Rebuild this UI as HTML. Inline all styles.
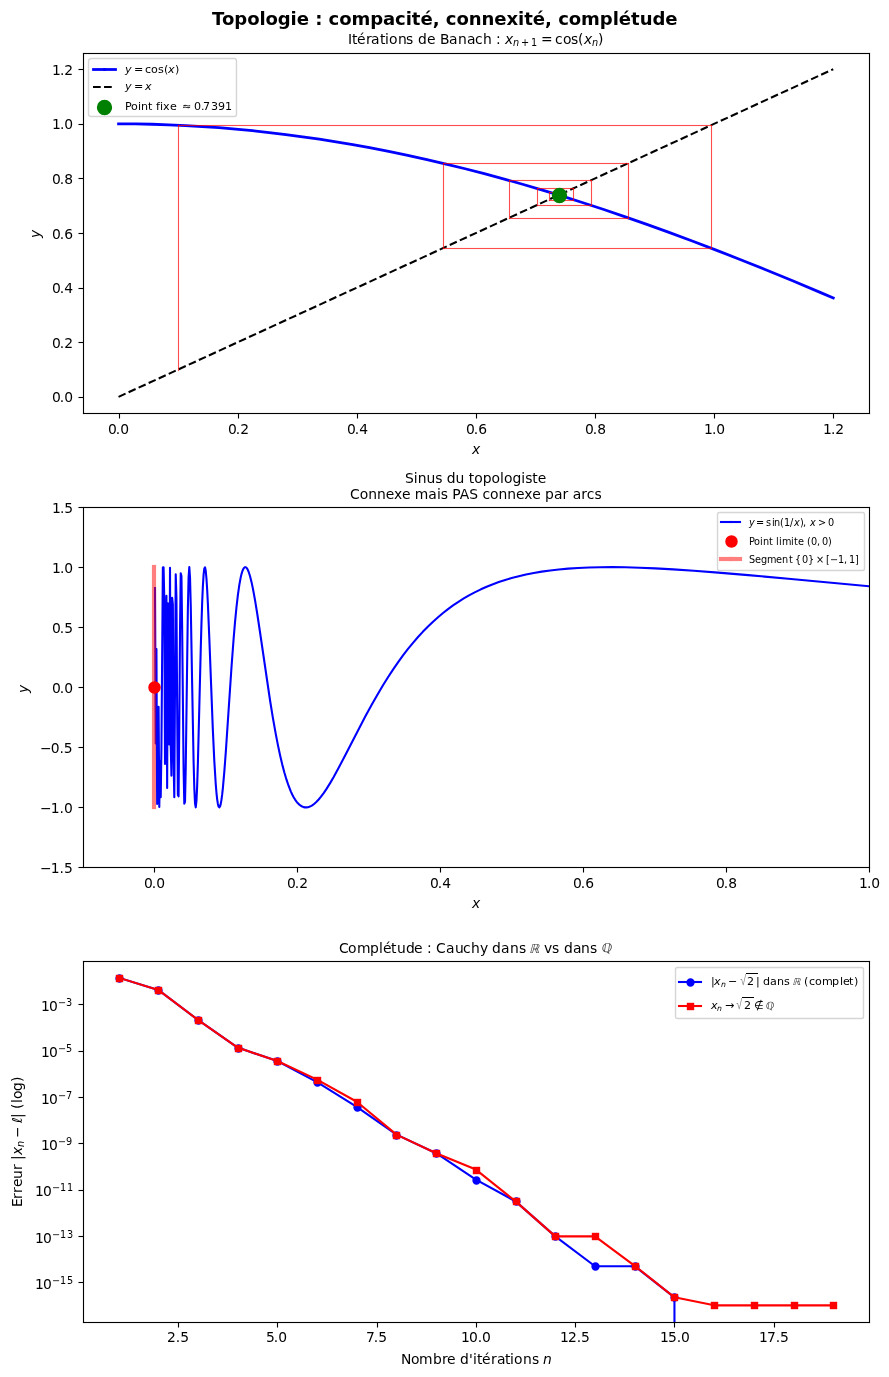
<!DOCTYPE html>
<html><head><meta charset="utf-8"><title>Topologie : compacité, connexité, complétude</title><style>html,body{margin:0;padding:0;background:#fff;overflow:hidden}svg{display:block;will-change:transform}</style></head>
<body>
<svg width="889" height="1377" viewBox="0 0 889 1377">
<defs>
<style type="text/css">*{stroke-linejoin: round; stroke-linecap: butt}</style>
</defs>
<g id="figure_1">
<g id="patch_1">
<path d="M 0 1377 L 890 1377 L 890 0 L 0 0 z
" style="fill: #ffffff"/>
</g>
<g id="axes_1">
<g id="patch_2">
<path d="M 83 413 L 869 413 L 869 53 L 83 53 z
" style="fill: #ffffff"/>
</g>
<g id="matplotlib.axis_1">
<g id="xtick_1">
<g id="line2d_1">
<defs>
<g id="m596c55c873">
<rect x="-0.0556" y="0.5" width="1.1111" height="5" style="fill: #000000"/>
</g>
</defs>
<g>
<use href="#m596c55c873" x="119" y="413"/>
</g>
</g>
<g id="text_1">
<text x="108 115.75 120.125" y="434" style="font-size: 13.888889px; font-family: 'DejaVu Sans', sans-serif">0.0</text>
</g>
</g>
<g id="xtick_2">
<g id="line2d_2">
<g>
<use href="#m596c55c873" x="238" y="413"/>
</g>
</g>
<g id="text_2">
<text x="228 235.75 240.125" y="434" style="font-size: 13.888889px; font-family: 'DejaVu Sans', sans-serif">0.2</text>
</g>
</g>
<g id="xtick_3">
<g id="line2d_3">
<g>
<use href="#m596c55c873" x="357" y="413"/>
</g>
</g>
<g id="text_3">
<text x="347 354.75 359.125" y="434" style="font-size: 13.888889px; font-family: 'DejaVu Sans', sans-serif">0.4</text>
</g>
</g>
<g id="xtick_4">
<g id="line2d_4">
<g>
<use href="#m596c55c873" x="476" y="413"/>
</g>
</g>
<g id="text_4">
<text x="466 473.75 478.125" y="434" style="font-size: 13.888889px; font-family: 'DejaVu Sans', sans-serif">0.6</text>
</g>
</g>
<g id="xtick_5">
<g id="line2d_5">
<g>
<use href="#m596c55c873" x="595" y="413"/>
</g>
</g>
<g id="text_5">
<text x="585 592.75 597.125" y="434" style="font-size: 13.888889px; font-family: 'DejaVu Sans', sans-serif">0.8</text>
</g>
</g>
<g id="xtick_6">
<g id="line2d_6">
<g>
<use href="#m596c55c873" x="714" y="413"/>
</g>
</g>
<g id="text_6">
<text x="704 711.875 716.25" y="434" style="font-size: 13.888889px; font-family: 'DejaVu Sans', sans-serif">1.0</text>
</g>
</g>
<g id="xtick_7">
<g id="line2d_7">
<g>
<use href="#m596c55c873" x="833" y="413"/>
</g>
</g>
<g id="text_7">
<text x="823 830.875 835.25" y="434" style="font-size: 13.888889px; font-family: 'DejaVu Sans', sans-serif">1.2</text>
</g>
</g>
<g id="text_8">
<!-- $x$ -->
<g style="font-family: 'DejaVu Sans', sans-serif">
<text style="white-space: pre"><tspan x="472" y="454" style="font-style: oblique; font-size: 13.888889px">x</tspan></text>
</g>
</g>
</g>
<g id="matplotlib.axis_2">
<g id="ytick_1">
<g id="line2d_8">
<defs>
<g id="mdbed641b74">
<rect x="-4.5" y="-0.0556" width="5" height="1.1111" style="fill: #000000"/>
</g>
</defs>
<g>
<use href="#mdbed641b74" x="83" y="397"/>
</g>
</g>
<g id="text_9">
<text x="52 59.75 64.125" y="402" style="font-size: 13.888889px; font-family: 'DejaVu Sans', sans-serif">0.0</text>
</g>
</g>
<g id="ytick_2">
<g id="line2d_9">
<g>
<use href="#mdbed641b74" x="83" y="342"/>
</g>
</g>
<g id="text_10">
<text x="52 59.75 64.125" y="348" style="font-size: 13.888889px; font-family: 'DejaVu Sans', sans-serif">0.2</text>
</g>
</g>
<g id="ytick_3">
<g id="line2d_10">
<g>
<use href="#mdbed641b74" x="83" y="288"/>
</g>
</g>
<g id="text_11">
<text x="52 59.75 64.125" y="293" style="font-size: 13.888889px; font-family: 'DejaVu Sans', sans-serif">0.4</text>
</g>
</g>
<g id="ytick_4">
<g id="line2d_11">
<g>
<use href="#mdbed641b74" x="83" y="233"/>
</g>
</g>
<g id="text_12">
<text x="52 59.75 64.125" y="239" style="font-size: 13.888889px; font-family: 'DejaVu Sans', sans-serif">0.6</text>
</g>
</g>
<g id="ytick_5">
<g id="line2d_12">
<g>
<use href="#mdbed641b74" x="83" y="178"/>
</g>
</g>
<g id="text_13">
<text x="52 59.75 64.125" y="184" style="font-size: 13.888889px; font-family: 'DejaVu Sans', sans-serif">0.8</text>
</g>
</g>
<g id="ytick_6">
<g id="line2d_13">
<g>
<use href="#mdbed641b74" x="83" y="124"/>
</g>
</g>
<g id="text_14">
<text x="52 59.875 64.25" y="129" style="font-size: 13.888889px; font-family: 'DejaVu Sans', sans-serif">1.0</text>
</g>
</g>
<g id="ytick_7">
<g id="line2d_14">
<g>
<use href="#mdbed641b74" x="83" y="69"/>
</g>
</g>
<g id="text_15">
<text x="52 59.875 64.25" y="75" style="font-size: 13.888889px; font-family: 'DejaVu Sans', sans-serif">1.2</text>
</g>
</g>
<g id="text_16">
<!-- $y$ -->
<g transform="rotate(-90 31 239)" style="font-family: 'DejaVu Sans', sans-serif">
<text style="white-space: pre"><tspan x="32" y="248" style="font-style: oblique; font-size: 13.888889px">y</tspan></text>
</g>
</g>
</g>
<g id="line2d_15">
<path d="M 118.548247 123.825589 L 135.280728 123.933334 L 152.013208 124.256482 L 168.745689 124.79478 L 185.478169 125.547802 L 202.21065 126.514953 L 218.94313 127.695472 L 235.675611 129.088425 L 252.408092 130.692714 L 269.140572 132.507072 L 285.873053 134.530069 L 302.605533 136.760106 L 319.338014 139.195424 L 336.070494 141.834102 L 352.802975 144.674056 L 369.535455 147.713046 L 388.65829 151.42681 L 407.781125 155.393573 L 426.90396 159.609246 L 446.026795 164.069484 L 465.14963 168.769689 L 484.272465 173.705016 L 503.3953 178.870378 L 522.518135 184.260451 L 541.64097 189.86968 L 560.763805 195.692281 L 582.276994 202.490273 L 603.790183 209.541845 L 625.303373 216.837799 L 646.816562 224.368615 L 668.329751 232.12447 L 692.233295 240.993706 L 716.136838 250.113985 L 740.040382 259.47062 L 766.33428 270.017913 L 792.628178 280.812403 L 821.31243 292.845407 L 833.264202 297.931979 L 833.264202 297.931979 " clip-path="url(#p5ff077d3a9)" style="fill: none; stroke: #0000ff; stroke-width: 2.777778; stroke-linecap: square"/>
</g>
<g id="line2d_16">
<path d="M 118.548247 396.872727 L 833.264202 69.216162 L 833.264202 69.216162 " clip-path="url(#p5ff077d3a9)" style="fill: none; stroke-dasharray: 7.708333,3.333333; stroke-dashoffset: 0; stroke: #000000; stroke-width: 2.083333"/>
</g>
<g id="line2d_17">
<g clip-path="url(#p5ff077d3a9)" style="fill: #ff0000; opacity: 0.7">
<rect x="177.9444" y="124.9444" width="1.1111" height="246.1111"/>
</g>
</g>
<g id="line2d_18">
<g clip-path="url(#p5ff077d3a9)" style="fill: #ff0000; opacity: 0.7">
<rect x="177.9444" y="124.9444" width="534.1111" height="1.1111"/>
</g>
</g>
<g id="line2d_19">
<g clip-path="url(#p5ff077d3a9)" style="fill: #ff0000; opacity: 0.7">
<rect x="710.9444" y="124.9444" width="1.1111" height="124.1111"/>
</g>
</g>
<g id="line2d_20">
<g clip-path="url(#p5ff077d3a9)" style="fill: #ff0000; opacity: 0.7">
<rect x="442.9444" y="247.9444" width="269.1111" height="1.1111"/>
</g>
</g>
<g id="line2d_21">
<g clip-path="url(#p5ff077d3a9)" style="fill: #ff0000; opacity: 0.7">
<rect x="442.9444" y="162.9444" width="1.1111" height="86.1111"/>
</g>
</g>
<g id="line2d_22">
<g clip-path="url(#p5ff077d3a9)" style="fill: #ff0000; opacity: 0.7">
<rect x="442.9444" y="162.9444" width="186.1111" height="1.1111"/>
</g>
</g>
<g id="line2d_23">
<g clip-path="url(#p5ff077d3a9)" style="fill: #ff0000; opacity: 0.7">
<rect x="627.9444" y="162.9444" width="1.1111" height="56.1111"/>
</g>
</g>
<g id="line2d_24">
<g clip-path="url(#p5ff077d3a9)" style="fill: #ff0000; opacity: 0.7">
<rect x="508.9444" y="217.9444" width="120.1111" height="1.1111"/>
</g>
</g>
<g id="line2d_25">
<g clip-path="url(#p5ff077d3a9)" style="fill: #ff0000; opacity: 0.7">
<rect x="508.9444" y="179.9444" width="1.1111" height="39.1111"/>
</g>
</g>
<g id="line2d_26">
<g clip-path="url(#p5ff077d3a9)" style="fill: #ff0000; opacity: 0.7">
<rect x="508.9444" y="179.9444" width="83.1111" height="1.1111"/>
</g>
</g>
<g id="line2d_27">
<g clip-path="url(#p5ff077d3a9)" style="fill: #ff0000; opacity: 0.7">
<rect x="590.9444" y="179.9444" width="1.1111" height="26.1111"/>
</g>
</g>
<g id="line2d_28">
<g clip-path="url(#p5ff077d3a9)" style="fill: #ff0000; opacity: 0.7">
<rect x="536.9444" y="204.9444" width="55.1111" height="1.1111"/>
</g>
</g>
<g id="line2d_29">
<g clip-path="url(#p5ff077d3a9)" style="fill: #ff0000; opacity: 0.7">
<rect x="536.9444" y="187.9444" width="1.1111" height="18.1111"/>
</g>
</g>
<g id="line2d_30">
<g clip-path="url(#p5ff077d3a9)" style="fill: #ff0000; opacity: 0.7">
<rect x="536.9444" y="187.9444" width="37.1111" height="1.1111"/>
</g>
</g>
<g id="line2d_31">
<g clip-path="url(#p5ff077d3a9)" style="fill: #ff0000; opacity: 0.7">
<rect x="572.9444" y="187.9444" width="1.1111" height="13.1111"/>
</g>
</g>
<g id="line2d_32">
<g clip-path="url(#p5ff077d3a9)" style="fill: #ff0000; opacity: 0.7">
<rect x="548.9444" y="199.9444" width="25.1111" height="1.1111"/>
</g>
</g>
<g id="line2d_33">
<g clip-path="url(#p5ff077d3a9)" style="fill: #ff0000; opacity: 0.7">
<rect x="548.9444" y="191.9444" width="1.1111" height="9.1111"/>
</g>
</g>
<g id="line2d_34">
<g clip-path="url(#p5ff077d3a9)" style="fill: #ff0000; opacity: 0.7">
<rect x="548.9444" y="191.9444" width="17.1111" height="1.1111"/>
</g>
</g>
<g id="line2d_35">
<g clip-path="url(#p5ff077d3a9)" style="fill: #ff0000; opacity: 0.7">
<rect x="564.9444" y="191.9444" width="1.1111" height="6.1111"/>
</g>
</g>
<g id="line2d_36">
<g clip-path="url(#p5ff077d3a9)" style="fill: #ff0000; opacity: 0.7">
<rect x="553.9444" y="196.9444" width="12.1111" height="1.1111"/>
</g>
</g>
<g id="line2d_37">
<g clip-path="url(#p5ff077d3a9)" style="fill: #ff0000; opacity: 0.7">
<rect x="553.9444" y="193.9444" width="1.1111" height="4.1111"/>
</g>
</g>
<g id="line2d_38">
<g clip-path="url(#p5ff077d3a9)" style="fill: #ff0000; opacity: 0.7">
<rect x="553.9444" y="193.9444" width="9.1111" height="1.1111"/>
</g>
</g>
<g id="line2d_39">
<g clip-path="url(#p5ff077d3a9)" style="fill: #ff0000; opacity: 0.7">
<rect x="561.9444" y="193.9444" width="1.1111" height="3.1111"/>
</g>
</g>
<g id="line2d_40">
<g clip-path="url(#p5ff077d3a9)" style="fill: #ff0000; opacity: 0.7">
<rect x="556.9444" y="195.9444" width="6.1111" height="1.1111"/>
</g>
</g>
<g id="line2d_41">
<g clip-path="url(#p5ff077d3a9)" style="fill: #ff0000; opacity: 0.7">
<rect x="556.9444" y="193.9444" width="1.1111" height="3.1111"/>
</g>
</g>
<g id="line2d_42">
<g clip-path="url(#p5ff077d3a9)" style="fill: #ff0000; opacity: 0.7">
<rect x="556.9444" y="193.9444" width="4.1111" height="1.1111"/>
</g>
</g>
<g id="line2d_43">
<g clip-path="url(#p5ff077d3a9)" style="fill: #ff0000; opacity: 0.7">
<rect x="559.9444" y="193.9444" width="1.1111" height="2.1111"/>
</g>
</g>
<g id="line2d_44">
<g clip-path="url(#p5ff077d3a9)" style="fill: #ff0000; opacity: 0.7">
<rect x="557.9444" y="194.9444" width="3.1111" height="1.1111"/>
</g>
</g>
<g id="line2d_45">
<g clip-path="url(#p5ff077d3a9)" style="fill: #ff0000; opacity: 0.7"/>
</g>
<g id="line2d_46">
<g clip-path="url(#p5ff077d3a9)" style="fill: #ff0000; opacity: 0.7">
<rect x="557.9444" y="194.9444" width="2.1111" height="1.1111"/>
</g>
</g>
<g id="line2d_47">
<g clip-path="url(#p5ff077d3a9)" style="fill: #ff0000; opacity: 0.7"/>
</g>
<g id="line2d_48">
<g clip-path="url(#p5ff077d3a9)" style="fill: #ff0000; opacity: 0.7">
<rect x="557.9444" y="194.9444" width="2.1111" height="1.1111"/>
</g>
</g>
<g id="line2d_49">
<g clip-path="url(#p5ff077d3a9)" style="fill: #ff0000; opacity: 0.7"/>
</g>
<g id="line2d_50">
<g clip-path="url(#p5ff077d3a9)" style="fill: #ff0000; opacity: 0.7">
<rect x="557.9444" y="194.9444" width="2.1111" height="1.1111"/>
</g>
</g>
<g id="line2d_51">
<g clip-path="url(#p5ff077d3a9)" style="fill: #ff0000; opacity: 0.7"/>
</g>
<g id="line2d_52">
<g clip-path="url(#p5ff077d3a9)" style="fill: #ff0000; opacity: 0.7"/>
</g>
<g id="line2d_53">
<g clip-path="url(#p5ff077d3a9)" style="fill: #ff0000; opacity: 0.7"/>
</g>
<g id="line2d_54">
<g clip-path="url(#p5ff077d3a9)" style="fill: #ff0000; opacity: 0.7"/>
</g>
<g id="line2d_55">
<g clip-path="url(#p5ff077d3a9)" style="fill: #ff0000; opacity: 0.7"/>
</g>
<g id="line2d_56">
<g clip-path="url(#p5ff077d3a9)" style="fill: #ff0000; opacity: 0.7"/>
</g>
<g id="patch_3">
<g style="fill: #000000">
<rect x="82.9444" y="52.9444" width="1.1111" height="361.1111"/>
</g>
</g>
<g id="patch_4">
<g style="fill: #000000">
<rect x="868.9444" y="52.9444" width="1.1111" height="361.1111"/>
</g>
</g>
<g id="patch_5">
<g style="fill: #000000">
<rect x="82.9444" y="412.9444" width="787.1111" height="1.1111"/>
</g>
</g>
<g id="patch_6">
<g style="fill: #000000">
<rect x="82.9444" y="52.9444" width="787.1111" height="1.1111"/>
</g>
</g>
<g id="text_17">
<!-- Itérations de Banach : $x_{n+1} = \cos(x_n)$ -->
<g style="font-family: 'DejaVu Sans', sans-serif">
<text style="white-space: pre"><tspan x="348" y="44" style="font-size: 13.888889px">I</tspan><tspan x="352" y="44" style="font-size: 13.888889px">t</tspan><tspan x="357" y="44" style="font-size: 13.888889px">é</tspan><tspan x="366" y="44" style="font-size: 13.888889px">r</tspan><tspan x="371" y="44" style="font-size: 13.888889px">a</tspan><tspan x="380" y="44" style="font-size: 13.888889px">t</tspan><tspan x="385" y="44" style="font-size: 13.888889px">i</tspan><tspan x="389" y="44" style="font-size: 13.888889px">o</tspan><tspan x="398" y="44" style="font-size: 13.888889px">n</tspan><tspan x="406" y="44" style="font-size: 13.888889px">s</tspan><tspan x="414" y="44" style="font-size: 13.888889px"> </tspan><tspan x="418" y="44" style="font-size: 13.888889px">d</tspan><tspan x="427" y="44" style="font-size: 13.888889px">e</tspan><tspan x="435" y="44" style="font-size: 13.888889px"> </tspan><tspan x="440" y="44" style="font-size: 13.888889px">B</tspan><tspan x="449" y="44" style="font-size: 13.888889px">a</tspan><tspan x="458" y="44" style="font-size: 13.888889px">n</tspan><tspan x="467" y="44" style="font-size: 13.888889px">a</tspan><tspan x="475" y="44" style="font-size: 13.888889px">c</tspan><tspan x="483" y="44" style="font-size: 13.888889px">h</tspan><tspan x="491" y="44" style="font-size: 13.888889px"> </tspan><tspan x="496" y="44" style="font-size: 13.888889px">:</tspan><tspan x="501" y="44" style="font-size: 13.888889px"> </tspan><tspan x="505" y="44" style="font-style: oblique; font-size: 13.888889px">x</tspan><tspan x="513" y="46" style="font-style: oblique; font-size: 9.722222px">n</tspan><tspan x="521" y="46" style="font-size: 9.722222px">+</tspan><tspan x="531" y="46" style="font-size: 9.722222px">1</tspan><tspan x="541" y="44" style="font-size: 13.888889px">=</tspan><tspan x="555" y="44" style="font-size: 13.888889px">c</tspan><tspan x="563" y="44" style="font-size: 13.888889px">o</tspan><tspan x="571" y="44" style="font-size: 13.888889px">s</tspan><tspan x="578" y="44" style="font-size: 13.888889px">(</tspan><tspan x="584" y="44" style="font-style: oblique; font-size: 13.888889px">x</tspan><tspan x="592" y="46" style="font-style: oblique; font-size: 9.722222px">n</tspan><tspan x="598" y="44" style="font-size: 13.888889px">)</tspan></text>
</g>
</g>
<g id="PathCollection_1">
<defs>
<path id="m0a743b87b1" d="M 0.5 7.444444 C 2.341688 7.444444 4.108194 6.712734 5.410464 5.410464 C 6.712734 4.108194 7.444444 2.341688 7.444444 0.5 C 7.444444 -1.341688 6.712734 -3.108194 5.410464 -4.410464 C 4.108194 -5.712734 2.341688 -6.444444 0.5 -6.444444 C -1.341688 -6.444444 -3.108194 -5.712734 -4.410464 -4.410464 C -5.712734 -3.108194 -6.444444 -1.341688 -6.444444 0.5 C -6.444444 2.341688 -5.712734 4.108194 -4.410464 5.410464 C -3.108194 6.712734 -1.341688 7.444444 0.5 7.444444 z
" style="stroke: #008000; stroke-width: 1.388889"/>
</defs>
<g clip-path="url(#p5ff077d3a9)">
<use href="#m0a743b87b1" x="559" y="195" style="fill: #008000; stroke: #008000; stroke-width: 1.388889"/>
</g>
</g>
<g id="legend_1">
<g id="patch_7">
<path d="M 91.5 116.5 L 234.5 116.5 Q 236.5 116.5 236.5 114.5 L 236.5 61.5 Q 236.5 58.5 234.5 58.5 L 91.5 58.5 Q 88.5 58.5 88.5 61.5 L 88.5 114.5 Q 88.5 116.5 91.5 116.5 z
" style="fill: #ffffff; opacity: 0.8; stroke: #cccccc; stroke-linejoin: miter; stroke-width: 1.388889"/>
</g>
<g id="line2d_57">
<g style="fill: #0000ff">
<rect x="92.1111" y="68.1111" width="13.7778" height="2.7778"/>
<rect x="103.1111" y="68.1111" width="13.7778" height="2.7778"/>
</g>
</g>
<g id="text_18">
<!-- $y=\cos(x)$ -->
<g style="font-family: 'DejaVu Sans', sans-serif">
<text style="white-space: pre"><tspan x="125" y="73" style="font-style: oblique; font-size: 11.111111px">y</tspan><tspan x="134" y="73" style="font-size: 11.111111px">=</tspan><tspan x="145" y="73" style="font-size: 11.111111px">c</tspan><tspan x="151" y="73" style="font-size: 11.111111px">o</tspan><tspan x="158" y="73" style="font-size: 11.111111px">s</tspan><tspan x="164" y="73" style="font-size: 11.111111px">(</tspan><tspan x="168" y="73" style="font-style: oblique; font-size: 11.111111px">x</tspan><tspan x="175" y="73" style="font-size: 11.111111px">)</tspan></text>
</g>
</g>
<g id="line2d_58">
<path d="M 93 87 L 104 87 L 115 87 " style="fill: none; stroke-dasharray: 7.708333,3.333333; stroke-dashoffset: 0; stroke: #000000; stroke-width: 2.083333"/>
</g>
<g id="text_19">
<!-- $y=x$ -->
<g style="font-family: 'DejaVu Sans', sans-serif">
<text style="white-space: pre"><tspan x="125" y="90" style="font-style: oblique; font-size: 11.111111px">y</tspan><tspan x="134" y="90" style="font-size: 11.111111px">=</tspan><tspan x="145" y="90" style="font-style: oblique; font-size: 11.111111px">x</tspan></text>
</g>
</g>
<g id="PathCollection_2">
<g>
<use href="#m0a743b87b1" x="104" y="107" style="fill: #008000; stroke: #008000; stroke-width: 1.388889"/>
</g>
</g>
<g id="text_20">
<!-- Point fixe $\approx 0.7391$ -->
<g style="font-family: 'DejaVu Sans', sans-serif">
<text style="white-space: pre"><tspan x="125" y="110" style="font-size: 11.111111px">P</tspan><tspan x="131" y="110" style="font-size: 11.111111px">o</tspan><tspan x="138" y="110" style="font-size: 11.111111px">i</tspan><tspan x="141" y="110" style="font-size: 11.111111px">n</tspan><tspan x="148" y="110" style="font-size: 11.111111px">t</tspan><tspan x="153" y="110" style="font-size: 11.111111px"> </tspan><tspan x="156" y="110" style="font-size: 11.111111px">f</tspan><tspan x="160" y="110" style="font-size: 11.111111px">i</tspan><tspan x="163" y="110" style="font-size: 11.111111px">x</tspan><tspan x="170" y="110" style="font-size: 11.111111px">e</tspan><tspan x="176" y="110" style="font-size: 11.111111px"> </tspan><tspan x="182" y="110" style="font-size: 11.111111px">≈</tspan><tspan x="194" y="110" style="font-size: 11.111111px">0</tspan><tspan x="201" y="110" style="font-size: 11.111111px">.</tspan><tspan x="203" y="110" style="font-size: 11.111111px">7</tspan><tspan x="211" y="110" style="font-size: 11.111111px">3</tspan><tspan x="218" y="110" style="font-size: 11.111111px">9</tspan><tspan x="225" y="110" style="font-size: 11.111111px">1</tspan></text>
</g>
</g>
</g>
</g>
<g id="axes_2">
<g id="patch_8">
<path d="M 83 867 L 869 867 L 869 507 L 83 507 z
" style="fill: #ffffff"/>
</g>
<g id="matplotlib.axis_3">
<g id="xtick_8">
<g id="line2d_59">
<g>
<use href="#m596c55c873" x="154" y="867"/>
</g>
</g>
<g id="text_21">
<text x="144 151.75 156.125" y="888" style="font-size: 13.888889px; font-family: 'DejaVu Sans', sans-serif">0.0</text>
</g>
</g>
<g id="xtick_9">
<g id="line2d_60">
<g>
<use href="#m596c55c873" x="297" y="867"/>
</g>
</g>
<g id="text_22">
<text x="287 294.75 299.125" y="888" style="font-size: 13.888889px; font-family: 'DejaVu Sans', sans-serif">0.2</text>
</g>
</g>
<g id="xtick_10">
<g id="line2d_61">
<g>
<use href="#m596c55c873" x="440" y="867"/>
</g>
</g>
<g id="text_23">
<text x="430 437.75 442.125" y="888" style="font-size: 13.888889px; font-family: 'DejaVu Sans', sans-serif">0.4</text>
</g>
</g>
<g id="xtick_11">
<g id="line2d_62">
<g>
<use href="#m596c55c873" x="583" y="867"/>
</g>
</g>
<g id="text_24">
<text x="573 580.75 585.125" y="888" style="font-size: 13.888889px; font-family: 'DejaVu Sans', sans-serif">0.6</text>
</g>
</g>
<g id="xtick_12">
<g id="line2d_63">
<g>
<use href="#m596c55c873" x="726" y="867"/>
</g>
</g>
<g id="text_25">
<text x="716 723.75 728.125" y="888" style="font-size: 13.888889px; font-family: 'DejaVu Sans', sans-serif">0.8</text>
</g>
</g>
<g id="xtick_13">
<g id="line2d_64">
<g>
<use href="#m596c55c873" x="869" y="867"/>
</g>
</g>
<g id="text_26">
<text x="859 866.875 871.25" y="888" style="font-size: 13.888889px; font-family: 'DejaVu Sans', sans-serif">1.0</text>
</g>
</g>
<g id="text_27">
<!-- $x$ -->
<g style="font-family: 'DejaVu Sans', sans-serif">
<text style="white-space: pre"><tspan x="472" y="908" style="font-style: oblique; font-size: 13.888889px">x</tspan></text>
</g>
</g>
</g>
<g id="matplotlib.axis_4">
<g id="ytick_8">
<g id="line2d_65">
<g>
<use href="#mdbed641b74" x="83" y="867"/>
</g>
</g>
<g id="text_28">
<text x="40 50.625 59.5 63.875" y="873" style="font-size: 13.888889px; font-family: 'DejaVu Sans', sans-serif">−1.5</text>
</g>
</g>
<g id="ytick_9">
<g id="line2d_66">
<g>
<use href="#mdbed641b74" x="83" y="807"/>
</g>
</g>
<g id="text_29">
<text x="40 50.625 59.5 63.875" y="813" style="font-size: 13.888889px; font-family: 'DejaVu Sans', sans-serif">−1.0</text>
</g>
</g>
<g id="ytick_10">
<g id="line2d_67">
<g>
<use href="#mdbed641b74" x="83" y="747"/>
</g>
</g>
<g id="text_30">
<text x="40 50.625 59.375 63.75" y="753" style="font-size: 13.888889px; font-family: 'DejaVu Sans', sans-serif">−0.5</text>
</g>
</g>
<g id="ytick_11">
<g id="line2d_68">
<g>
<use href="#mdbed641b74" x="83" y="687"/>
</g>
</g>
<g id="text_31">
<text x="52 59.75 64.125" y="693" style="font-size: 13.888889px; font-family: 'DejaVu Sans', sans-serif">0.0</text>
</g>
</g>
<g id="ytick_12">
<g id="line2d_69">
<g>
<use href="#mdbed641b74" x="83" y="627"/>
</g>
</g>
<g id="text_32">
<text x="52 59.75 64.125" y="633" style="font-size: 13.888889px; font-family: 'DejaVu Sans', sans-serif">0.5</text>
</g>
</g>
<g id="ytick_13">
<g id="line2d_70">
<g>
<use href="#mdbed641b74" x="83" y="567"/>
</g>
</g>
<g id="text_33">
<text x="52 59.875 64.25" y="573" style="font-size: 13.888889px; font-family: 'DejaVu Sans', sans-serif">1.0</text>
</g>
</g>
<g id="ytick_14">
<g id="line2d_71">
<g>
<use href="#mdbed641b74" x="83" y="507"/>
</g>
</g>
<g id="text_34">
<text x="52 59.875 64.25" y="513" style="font-size: 13.888889px; font-family: 'DejaVu Sans', sans-serif">1.5</text>
</g>
</g>
<g id="text_35">
<!-- $y$ -->
<g transform="rotate(-90 19 694)" style="font-family: 'DejaVu Sans', sans-serif">
<text style="white-space: pre"><tspan x="20" y="703" style="font-style: oblique; font-size: 13.888889px">y</tspan></text>
</g>
</g>
</g>
<g id="line2d_72">
<path d="M 154.998761 587.935857 L 155.713477 743.476229 L 156.428193 648.971342 L 157.142909 803.877733 L 157.857625 792.196362 L 158.572341 706.685915 L 159.287057 806.981472 L 160.001773 761.289335 L 160.716489 797.199784 L 161.431204 748.112921 L 162.860636 567.532189 L 163.575352 567.263809 L 164.290068 598.77965 L 165.004784 764.049875 L 165.7195 726.419097 L 166.434216 595.704472 L 167.148932 787.923228 L 167.863648 603.170794 L 168.578364 718.799687 L 169.29308 744.365116 L 170.007796 567.719951 L 170.722512 745.301406 L 171.437228 775.60529 L 172.151944 597.759331 L 172.86666 604.299173 L 173.581376 761.134852 L 174.296092 797.267475 L 175.725524 574.281858 L 176.44024 597.644563 L 177.154955 707.120969 L 177.869671 795.041952 L 178.584387 796.312423 L 179.299103 722.448188 L 180.013819 630.042681 L 180.728535 573.368501 L 181.443251 576.055941 L 182.157967 628.807771 L 183.587399 768.508537 L 184.302115 803.755255 L 185.016831 801.832782 L 185.731547 767.942754 L 187.875695 608.55199 L 188.590411 577.237454 L 189.305127 567.145962 L 190.019843 577.595859 L 190.734559 604.65952 L 192.163991 685.071084 L 193.593422 761.670269 L 194.308138 787.877335 L 195.022854 803.221557 L 195.73757 807.334593 L 196.452286 800.951295 L 197.167002 785.606637 L 197.881718 763.332172 L 199.31115 707.017409 L 200.740582 649.103932 L 201.455298 623.822622 L 202.170014 602.564329 L 202.88473 586.047972 L 203.599446 574.652753 L 204.314162 568.460133 L 205.028878 567.303578 L 205.743594 570.820912 L 206.45831 578.505484 L 207.173026 589.7535 L 207.887742 603.905926 L 209.317173 638.218677 L 212.890753 730.862353 L 214.320185 761.090678 L 215.749617 784.189429 L 216.464333 792.787216 L 217.179049 799.372258 L 217.893765 803.964159 L 218.608481 806.617545 L 219.323197 807.415931 L 220.037913 806.465965 L 220.752629 803.892135 L 221.467345 799.831967 L 222.182061 794.431768 L 222.896777 787.842882 L 224.326209 771.710795 L 225.75564 752.636877 L 228.614504 710.038993 L 231.473368 667.482913 L 233.617516 638.753715 L 235.046948 621.91884 L 236.47638 607.237861 L 237.905812 594.851615 L 239.335244 584.815918 L 240.764675 577.117259 L 241.479391 574.124725 L 242.194107 571.687247 L 242.908823 569.789822 L 243.623539 568.415545 L 244.338255 567.54592 L 245.052971 567.161146 L 245.767687 567.240387 L 246.482403 567.762002 L 247.197119 568.703767 L 247.911835 570.04307 L 248.626551 571.757084 L 250.055983 576.217765 L 251.485415 581.904345 L 252.914847 588.640093 L 255.058995 600.34316 L 257.203142 613.498018 L 260.062006 632.485481 L 270.06803 700.507917 L 272.926893 718.057834 L 275.785757 734.154877 L 277.929905 745.175356 L 280.074053 755.249839 L 282.218201 764.361066 L 284.362349 772.508436 L 286.506497 779.704746 L 288.650644 785.973376 L 290.794792 791.34587 L 292.224224 794.44808 L 293.653656 797.18096 L 295.083088 799.557481 L 296.51252 801.591112 L 297.941952 803.295666 L 299.371384 804.685173 L 300.800816 805.773764 L 302.230248 806.575572 L 303.65968 807.10465 L 305.089111 807.3749 L 306.518543 807.40001 L 307.947975 807.193406 L 309.377407 806.768209 L 310.806839 806.137202 L 312.236271 805.312802 L 314.380419 803.739802 L 316.524567 801.797546 L 318.668715 799.522833 L 320.812862 796.950319 L 323.671726 793.112955 L 326.53059 788.874995 L 330.10417 783.112335 L 333.67775 776.937636 L 338.680761 767.787016 L 345.113205 755.483298 L 365.125252 716.795903 L 371.557695 704.97963 L 377.275423 694.905851 L 382.993151 685.284416 L 387.996162 677.259035 L 392.999174 669.611618 L 398.002186 662.345907 L 403.005197 655.460696 L 408.008209 648.950938 L 413.011221 642.808661 L 418.014232 637.023708 L 423.017244 631.584332 L 428.020256 626.477688 L 433.023267 621.690212 L 438.026279 617.207938 L 443.029291 613.016734 L 448.032302 609.102499 L 453.035314 605.451307 L 458.038326 602.049519 L 463.756053 598.450156 L 469.473781 595.140127 L 475.191509 592.101144 L 480.909236 589.315782 L 486.626964 586.767506 L 492.344692 584.440678 L 498.777135 582.069357 L 505.209579 579.939956 L 511.642022 578.034111 L 518.789182 576.15797 L 525.936342 574.515089 L 533.798217 572.953589 L 541.660093 571.625959 L 550.236684 570.418455 L 558.813275 569.437044 L 568.104583 568.601915 L 578.110606 567.938114 L 588.831346 567.465304 L 600.266801 567.197654 L 612.416972 567.143958 L 625.281859 567.307942 L 639.576178 567.713988 L 655.299929 568.38504 L 673.167828 569.376562 L 693.894591 570.762538 L 718.194933 572.623216 L 748.213004 575.155863 L 791.095961 579.017146 L 869 586.18283 L 869 586.18283 " clip-path="url(#pfa84c1c053)" style="fill: none; stroke: #0000ff; stroke-width: 2.083333; stroke-linecap: square"/>
</g>
<g id="line2d_73">
<defs>
<path id="mcdd9af2c62" d="M 0.5 6.055556 C 1.973351 6.055556 3.386555 5.470187 4.428371 4.428371 C 5.470187 3.386555 6.055556 1.973351 6.055556 0.5 C 6.055556 -0.973351 5.470187 -2.386555 4.428371 -3.428371 C 3.386555 -4.470187 1.973351 -5.055556 0.5 -5.055556 C -0.973351 -5.055556 -2.386555 -4.470187 -3.428371 -3.428371 C -4.470187 -2.386555 -5.055556 -0.973351 -5.055556 0.5 C -5.055556 1.973351 -4.470187 3.386555 -3.428371 4.428371 C -2.386555 5.470187 -0.973351 6.055556 0.5 6.055556 z
" style="stroke: #ff0000; stroke-width: 1.388889"/>
</defs>
<g clip-path="url(#pfa84c1c053)">
<use href="#mcdd9af2c62" x="154" y="687" style="fill: #ff0000; stroke: #ff0000; stroke-width: 1.388889"/>
</g>
</g>
<g id="line2d_74">
<g clip-path="url(#pfa84c1c053)" style="fill: #ff0000; opacity: 0.5">
<rect x="151.9167" y="564.9167" width="4.1667" height="244.1667"/>
</g>
</g>
<g id="patch_9">
<g style="fill: #000000">
<rect x="82.9444" y="506.9444" width="1.1111" height="361.1111"/>
</g>
</g>
<g id="patch_10">
<g style="fill: #000000">
<rect x="868.9444" y="506.9444" width="1.1111" height="361.1111"/>
</g>
</g>
<g id="patch_11">
<g style="fill: #000000">
<rect x="82.9444" y="866.9444" width="787.1111" height="1.1111"/>
</g>
</g>
<g id="patch_12">
<g style="fill: #000000">
<rect x="82.9444" y="506.9444" width="787.1111" height="1.1111"/>
</g>
</g>
<g id="text_36">
<text x="405 413.75 417.625 426.375 435.125 442.25 446.625 455.5 464.25 468.625 474.125 482.625 491.5 500 503.875 512.375 521.25 525.125 532.25 537.75" y="483" style="font-size: 13.888889px; font-family: 'DejaVu Sans', sans-serif">Sinus du topologiste</text>
<text x="350 359.75 368.25 377 385.75 394 401.875 410.375 414.75 428.25 436.875 440.75 447.875 452.25 459.75 469.25 478 482.375 490 498.5 507.25 516 524.25 532.125 540.625 545 553.875 562.5 568.25 572.625 581.25 586.75 594.375" y="499" style="font-size: 13.888889px; font-family: 'DejaVu Sans', sans-serif">Connexe mais PAS connexe par arcs</text>
</g>
<g id="legend_2">
<g id="patch_13">
<path d="M 719.5 570.5 L 862.5 570.5 Q 864.5 570.5 864.5 568.5 L 864.5 514.5 Q 864.5 512.5 862.5 512.5 L 719.5 512.5 Q 717.5 512.5 717.5 514.5 L 717.5 568.5 Q 717.5 570.5 719.5 570.5 z
" style="fill: #ffffff; opacity: 0.8; stroke: #cccccc; stroke-linejoin: miter; stroke-width: 1.388889"/>
</g>
<g id="line2d_75">
<g style="fill: #0000ff">
<rect x="719.9583" y="520.9583" width="12.0833" height="2.0833"/>
<rect x="729.9583" y="520.9583" width="11.0833" height="2.0833"/>
</g>
</g>
<g id="text_37">
<!-- $y=\sin(1/x),\, x&gt;0$ -->
<g style="font-family: 'DejaVu Sans', sans-serif">
<text style="white-space: pre"><tspan x="749" y="526" style="font-style: oblique; font-size: 9.722222px">y</tspan><tspan x="756" y="526" style="font-size: 9.722222px">=</tspan><tspan x="766" y="526" style="font-size: 9.722222px">s</tspan><tspan x="772" y="526" style="font-size: 9.722222px">i</tspan><tspan x="774" y="526" style="font-size: 9.722222px">n</tspan><tspan x="780" y="526" style="font-size: 9.722222px">(</tspan><tspan x="784" y="526" style="font-size: 9.722222px">1</tspan><tspan x="790" y="526" style="font-size: 9.722222px">/</tspan><tspan x="794" y="526" style="font-style: oblique; font-size: 9.722222px">x</tspan><tspan x="800" y="526" style="font-size: 9.722222px">)</tspan><tspan x="803" y="526" style="font-size: 9.722222px">,</tspan><tspan x="810" y="526" style="font-style: oblique; font-size: 9.722222px">x</tspan><tspan x="818" y="526" style="font-size: 9.722222px">&gt;</tspan><tspan x="828" y="526" style="font-size: 9.722222px">0</tspan></text>
</g>
</g>
<g id="line2d_76">
<g>
<use href="#mcdd9af2c62" x="731" y="541" style="fill: #ff0000; stroke: #ff0000; stroke-width: 1.388889"/>
</g>
</g>
<g id="text_38">
<!-- Point limite $(0,0)$ -->
<g style="font-family: 'DejaVu Sans', sans-serif">
<text style="white-space: pre"><tspan x="749" y="545" style="font-size: 9.722222px">P</tspan><tspan x="754" y="545" style="font-size: 9.722222px">o</tspan><tspan x="760" y="545" style="font-size: 9.722222px">i</tspan><tspan x="763" y="545" style="font-size: 9.722222px">n</tspan><tspan x="769" y="545" style="font-size: 9.722222px">t</tspan><tspan x="773" y="545" style="font-size: 9.722222px"> </tspan><tspan x="776" y="545" style="font-size: 9.722222px">l</tspan><tspan x="779" y="545" style="font-size: 9.722222px">i</tspan><tspan x="782" y="545" style="font-size: 9.722222px">m</tspan><tspan x="791" y="545" style="font-size: 9.722222px">i</tspan><tspan x="794" y="545" style="font-size: 9.722222px">t</tspan><tspan x="798" y="545" style="font-size: 9.722222px">e</tspan><tspan x="804" y="545" style="font-size: 9.722222px"> </tspan><tspan x="807" y="545" style="font-size: 9.722222px">(</tspan><tspan x="811" y="545" style="font-size: 9.722222px">0</tspan><tspan x="817" y="545" style="font-size: 9.722222px">,</tspan><tspan x="822" y="545" style="font-size: 9.722222px">0</tspan><tspan x="828" y="545" style="font-size: 9.722222px">)</tspan></text>
</g>
</g>
<g id="line2d_77">
<g style="fill: #ff0000; opacity: 0.5">
<rect x="718.9167" y="556.9167" width="14.1667" height="4.1667"/>
<rect x="728.9167" y="556.9167" width="13.1667" height="4.1667"/>
</g>
</g>
<g id="text_39">
<!-- Segment $\{0\}\times[-1,1]$ -->
<g style="font-family: 'DejaVu Sans', sans-serif">
<text style="white-space: pre"><tspan x="749" y="563" style="font-size: 9.722222px">S</tspan><tspan x="755" y="563" style="font-size: 9.722222px">e</tspan><tspan x="761" y="563" style="font-size: 9.722222px">g</tspan><tspan x="767" y="563" style="font-size: 9.722222px">m</tspan><tspan x="776" y="563" style="font-size: 9.722222px">e</tspan><tspan x="782" y="563" style="font-size: 9.722222px">n</tspan><tspan x="789" y="563" style="font-size: 9.722222px">t</tspan><tspan x="792" y="563" style="font-size: 9.722222px"> </tspan><tspan x="795" y="563" style="font-size: 9.722222px">{</tspan><tspan x="802" y="563" style="font-size: 9.722222px">0</tspan><tspan x="808" y="563" style="font-size: 9.722222px">}</tspan><tspan x="816" y="563" style="font-size: 9.722222px">×</tspan><tspan x="826" y="563" style="font-size: 9.722222px">[</tspan><tspan x="830" y="563" style="font-size: 9.722222px">−</tspan><tspan x="838" y="563" style="font-size: 9.722222px">1</tspan><tspan x="844" y="563" style="font-size: 9.722222px">,</tspan><tspan x="849" y="563" style="font-size: 9.722222px">1</tspan><tspan x="855" y="563" style="font-size: 9.722222px">]</tspan></text>
</g>
</g>
</g>
</g>
<g id="axes_3">
<g id="patch_14">
<path d="M 83 1322 L 869 1322 L 869 961 L 83 961 z
" style="fill: #ffffff"/>
</g>
<g id="matplotlib.axis_5">
<g id="xtick_14">
<g id="line2d_78">
<g>
<use href="#m596c55c873" x="178" y="1322"/>
</g>
</g>
<g id="text_40">
<text x="167 175.75 180.125" y="1342" style="font-size: 13.888889px; font-family: 'DejaVu Sans', sans-serif">2.5</text>
</g>
</g>
<g id="xtick_15">
<g id="line2d_79">
<g>
<use href="#m596c55c873" x="277" y="1322"/>
</g>
</g>
<g id="text_41">
<text x="266 273.75 278.125" y="1342" style="font-size: 13.888889px; font-family: 'DejaVu Sans', sans-serif">5.0</text>
</g>
</g>
<g id="xtick_16">
<g id="line2d_80">
<g>
<use href="#m596c55c873" x="377" y="1322"/>
</g>
</g>
<g id="text_42">
<text x="366 373.75 378.125" y="1342" style="font-size: 13.888889px; font-family: 'DejaVu Sans', sans-serif">7.5</text>
</g>
</g>
<g id="xtick_17">
<g id="line2d_81">
<g>
<use href="#m596c55c873" x="476" y="1322"/>
</g>
</g>
<g id="text_43">
<text x="461 468.875 477.625 482" y="1342" style="font-size: 13.888889px; font-family: 'DejaVu Sans', sans-serif">10.0</text>
</g>
</g>
<g id="xtick_18">
<g id="line2d_82">
<g>
<use href="#m596c55c873" x="575" y="1322"/>
</g>
</g>
<g id="text_44">
<text x="560 567.875 576.625 581" y="1342" style="font-size: 13.888889px; font-family: 'DejaVu Sans', sans-serif">12.5</text>
</g>
</g>
<g id="xtick_19">
<g id="line2d_83">
<g>
<use href="#m596c55c873" x="674" y="1322"/>
</g>
</g>
<g id="text_45">
<text x="660 667.875 676.625 681" y="1342" style="font-size: 13.888889px; font-family: 'DejaVu Sans', sans-serif">15.0</text>
</g>
</g>
<g id="xtick_20">
<g id="line2d_84">
<g>
<use href="#m596c55c873" x="774" y="1322"/>
</g>
</g>
<g id="text_46">
<text x="759 766.875 775.625 780" y="1342" style="font-size: 13.888889px; font-family: 'DejaVu Sans', sans-serif">17.5</text>
</g>
</g>
<g id="text_47">
<!-- Nombre d'itérations $n$ -->
<g style="font-family: 'DejaVu Sans', sans-serif">
<text style="white-space: pre"><tspan x="401" y="1364" style="font-size: 13.888889px">N</tspan><tspan x="411" y="1364" style="font-size: 13.888889px">o</tspan><tspan x="419" y="1364" style="font-size: 13.888889px">m</tspan><tspan x="433" y="1364" style="font-size: 13.888889px">b</tspan><tspan x="442" y="1364" style="font-size: 13.888889px">r</tspan><tspan x="447" y="1364" style="font-size: 13.888889px">e</tspan><tspan x="456" y="1364" style="font-size: 13.888889px"> </tspan><tspan x="460" y="1364" style="font-size: 13.888889px">d</tspan><tspan x="469" y="1364" style="font-size: 13.888889px">'</tspan><tspan x="473" y="1364" style="font-size: 13.888889px">i</tspan><tspan x="477" y="1364" style="font-size: 13.888889px">t</tspan><tspan x="482" y="1364" style="font-size: 13.888889px">é</tspan><tspan x="491" y="1364" style="font-size: 13.888889px">r</tspan><tspan x="497" y="1364" style="font-size: 13.888889px">a</tspan><tspan x="505" y="1364" style="font-size: 13.888889px">t</tspan><tspan x="510" y="1364" style="font-size: 13.888889px">i</tspan><tspan x="514" y="1364" style="font-size: 13.888889px">o</tspan><tspan x="523" y="1364" style="font-size: 13.888889px">n</tspan><tspan x="532" y="1364" style="font-size: 13.888889px">s</tspan><tspan x="539" y="1364" style="font-size: 13.888889px"> </tspan><tspan x="543" y="1364" style="font-style: oblique; font-size: 13.888889px">n</tspan></text>
</g>
</g>
</g>
<g id="matplotlib.axis_6">
<g id="ytick_15">
<g id="line2d_85">
<g>
<use href="#mdbed641b74" x="83" y="1282"/>
</g>
</g>
<g id="text_48">
<!-- $\mathdefault{10^{-15}}$ -->
<g style="font-family: 'DejaVu Sans', sans-serif">
<text style="white-space: pre"><tspan x="35" y="1289" style="font-size: 13.888889px">1</tspan><tspan x="43" y="1289" style="font-size: 13.888889px">0</tspan><tspan x="52" y="1284" style="font-size: 9.722222px">−</tspan><tspan x="60" y="1284" style="font-size: 9.722222px">1</tspan><tspan x="67" y="1284" style="font-size: 9.722222px">5</tspan></text>
</g>
</g>
</g>
<g id="ytick_16">
<g id="line2d_86">
<g>
<use href="#mdbed641b74" x="83" y="1236"/>
</g>
</g>
<g id="text_49">
<!-- $\mathdefault{10^{-13}}$ -->
<g style="font-family: 'DejaVu Sans', sans-serif">
<text style="white-space: pre"><tspan x="35" y="1243" style="font-size: 13.888889px">1</tspan><tspan x="43" y="1243" style="font-size: 13.888889px">0</tspan><tspan x="52" y="1238" style="font-size: 9.722222px">−</tspan><tspan x="60" y="1238" style="font-size: 9.722222px">1</tspan><tspan x="67" y="1238" style="font-size: 9.722222px">3</tspan></text>
</g>
</g>
</g>
<g id="ytick_17">
<g id="line2d_87">
<g>
<use href="#mdbed641b74" x="83" y="1190"/>
</g>
</g>
<g id="text_50">
<!-- $\mathdefault{10^{-11}}$ -->
<g style="font-family: 'DejaVu Sans', sans-serif">
<text style="white-space: pre"><tspan x="35" y="1196" style="font-size: 13.888889px">1</tspan><tspan x="43" y="1196" style="font-size: 13.888889px">0</tspan><tspan x="52" y="1191" style="font-size: 9.722222px">−</tspan><tspan x="60" y="1191" style="font-size: 9.722222px">1</tspan><tspan x="67" y="1191" style="font-size: 9.722222px">1</tspan></text>
</g>
</g>
</g>
<g id="ytick_18">
<g id="line2d_88">
<g>
<use href="#mdbed641b74" x="83" y="1143"/>
</g>
</g>
<g id="text_51">
<!-- $\mathdefault{10^{-9}}$ -->
<g style="font-family: 'DejaVu Sans', sans-serif">
<text style="white-space: pre"><tspan x="41" y="1150" style="font-size: 13.888889px">1</tspan><tspan x="49" y="1150" style="font-size: 13.888889px">0</tspan><tspan x="58" y="1145" style="font-size: 9.722222px">−</tspan><tspan x="66" y="1145" style="font-size: 9.722222px">9</tspan></text>
</g>
</g>
</g>
<g id="ytick_19">
<g id="line2d_89">
<g>
<use href="#mdbed641b74" x="83" y="1097"/>
</g>
</g>
<g id="text_52">
<!-- $\mathdefault{10^{-7}}$ -->
<g style="font-family: 'DejaVu Sans', sans-serif">
<text style="white-space: pre"><tspan x="41" y="1104" style="font-size: 13.888889px">1</tspan><tspan x="49" y="1104" style="font-size: 13.888889px">0</tspan><tspan x="58" y="1099" style="font-size: 9.722222px">−</tspan><tspan x="66" y="1099" style="font-size: 9.722222px">7</tspan></text>
</g>
</g>
</g>
<g id="ytick_20">
<g id="line2d_90">
<g>
<use href="#mdbed641b74" x="83" y="1051"/>
</g>
</g>
<g id="text_53">
<!-- $\mathdefault{10^{-5}}$ -->
<g style="font-family: 'DejaVu Sans', sans-serif">
<text style="white-space: pre"><tspan x="41" y="1057" style="font-size: 13.888889px">1</tspan><tspan x="49" y="1057" style="font-size: 13.888889px">0</tspan><tspan x="58" y="1052" style="font-size: 9.722222px">−</tspan><tspan x="66" y="1052" style="font-size: 9.722222px">5</tspan></text>
</g>
</g>
</g>
<g id="ytick_21">
<g id="line2d_91">
<g>
<use href="#mdbed641b74" x="83" y="1004"/>
</g>
</g>
<g id="text_54">
<!-- $\mathdefault{10^{-3}}$ -->
<g style="font-family: 'DejaVu Sans', sans-serif">
<text style="white-space: pre"><tspan x="41" y="1011" style="font-size: 13.888889px">1</tspan><tspan x="49" y="1011" style="font-size: 13.888889px">0</tspan><tspan x="58" y="1006" style="font-size: 9.722222px">−</tspan><tspan x="66" y="1006" style="font-size: 9.722222px">3</tspan></text>
</g>
</g>
</g>
<g id="text_55">
<!-- Erreur $|x_n - \ell|$ (log) -->
<g transform="rotate(-90 10 1208)" style="font-family: 'DejaVu Sans', sans-serif">
<text style="white-space: pre"><tspan x="11" y="1220" style="font-size: 13.888889px">E</tspan><tspan x="19" y="1220" style="font-size: 13.888889px">r</tspan><tspan x="25" y="1220" style="font-size: 13.888889px">r</tspan><tspan x="31" y="1220" style="font-size: 13.888889px">e</tspan><tspan x="39" y="1220" style="font-size: 13.888889px">u</tspan><tspan x="48" y="1220" style="font-size: 13.888889px">r</tspan><tspan x="54" y="1220" style="font-size: 13.888889px"> </tspan><tspan x="58" y="1220" style="font-size: 13.888889px">|</tspan><tspan x="63" y="1220" style="font-style: oblique; font-size: 13.888889px">x</tspan><tspan x="71" y="1222" style="font-style: oblique; font-size: 9.722222px">n</tspan><tspan x="80" y="1220" style="font-size: 13.888889px">−</tspan><tspan x="95" y="1220" style="font-style: oblique; font-size: 13.888889px">ℓ</tspan><tspan x="100" y="1220" style="font-size: 13.888889px">|</tspan><tspan x="105" y="1220" style="font-size: 13.888889px"> </tspan><tspan x="109" y="1220" style="font-size: 13.888889px">(</tspan><tspan x="115" y="1220" style="font-size: 13.888889px">l</tspan><tspan x="119" y="1220" style="font-size: 13.888889px">o</tspan><tspan x="127" y="1220" style="font-size: 13.888889px">g</tspan><tspan x="136" y="1220" style="font-size: 13.888889px">)</tspan></text>
</g>
</g>
</g>
<g id="line2d_92">
<path d="M 118.548247 977.682828 L 158.254689 989.908069 L 197.961131 1019.892172 L 237.667573 1047.608917 L 277.374015 1061.050603 L 317.080457 1082.133195 L 356.786899 1106.803581 L 396.493341 1134.589648 L 436.199783 1153.191791 L 475.906225 1179.630543 L 515.612667 1201.373521 L 555.319109 1236.396857 L 595.025551 1266.239653 L 634.731993 1266.239653 L 674.438434 1297.318777 L 674.579009 1378 " clip-path="url(#p375bcca759)" style="fill: none; stroke: #0000ff; stroke-width: 2.083333; stroke-linecap: square"/>
<defs>
<path id="md086874d5b" d="M 0.5 3.972222 C 1.420844 3.972222 2.304097 3.606367 2.955232 2.955232 C 3.606367 2.304097 3.972222 1.420844 3.972222 0.5 C 3.972222 -0.420844 3.606367 -1.304097 2.955232 -1.955232 C 2.304097 -2.606367 1.420844 -2.972222 0.5 -2.972222 C -0.420844 -2.972222 -1.304097 -2.606367 -1.955232 -1.955232 C -2.606367 -1.304097 -2.972222 -0.420844 -2.972222 0.5 C -2.972222 1.420844 -2.606367 2.304097 -1.955232 2.955232 C -1.304097 3.606367 -0.420844 3.972222 0.5 3.972222 z
" style="stroke: #0000ff; stroke-width: 1.388889"/>
</defs>
<g clip-path="url(#p375bcca759)">
<use href="#md086874d5b" x="119" y="978" style="fill: #0000ff; stroke: #0000ff; stroke-width: 1.388889"/>
<use href="#md086874d5b" x="158" y="990" style="fill: #0000ff; stroke: #0000ff; stroke-width: 1.388889"/>
<use href="#md086874d5b" x="198" y="1020" style="fill: #0000ff; stroke: #0000ff; stroke-width: 1.388889"/>
<use href="#md086874d5b" x="238" y="1048" style="fill: #0000ff; stroke: #0000ff; stroke-width: 1.388889"/>
<use href="#md086874d5b" x="277" y="1061" style="fill: #0000ff; stroke: #0000ff; stroke-width: 1.388889"/>
<use href="#md086874d5b" x="317" y="1082" style="fill: #0000ff; stroke: #0000ff; stroke-width: 1.388889"/>
<use href="#md086874d5b" x="357" y="1107" style="fill: #0000ff; stroke: #0000ff; stroke-width: 1.388889"/>
<use href="#md086874d5b" x="396" y="1135" style="fill: #0000ff; stroke: #0000ff; stroke-width: 1.388889"/>
<use href="#md086874d5b" x="436" y="1153" style="fill: #0000ff; stroke: #0000ff; stroke-width: 1.388889"/>
<use href="#md086874d5b" x="476" y="1180" style="fill: #0000ff; stroke: #0000ff; stroke-width: 1.388889"/>
<use href="#md086874d5b" x="516" y="1201" style="fill: #0000ff; stroke: #0000ff; stroke-width: 1.388889"/>
<use href="#md086874d5b" x="555" y="1236" style="fill: #0000ff; stroke: #0000ff; stroke-width: 1.388889"/>
<use href="#md086874d5b" x="595" y="1266" style="fill: #0000ff; stroke: #0000ff; stroke-width: 1.388889"/>
<use href="#md086874d5b" x="635" y="1266" style="fill: #0000ff; stroke: #0000ff; stroke-width: 1.388889"/>
<use href="#md086874d5b" x="674" y="1297" style="fill: #0000ff; stroke: #0000ff; stroke-width: 1.388889"/>
</g>
</g>
<g id="line2d_93">
<path d="M 118.548247 977.682828 L 158.254689 989.908069 L 197.961131 1019.892172 L 237.667573 1047.608917 L 277.374015 1061.050603 L 317.080457 1079.611519 L 356.786899 1101.72185 L 396.493341 1134.589648 L 436.199783 1153.191791 L 475.906225 1169.581478 L 515.612667 1201.373521 L 555.319109 1236.396857 L 595.025551 1236.396857 L 634.731993 1265.792709 L 674.438434 1297.318777 L 714.144876 1305.339394 L 753.851318 1305.339394 L 793.55776 1305.339394 L 833.264202 1305.339394 " clip-path="url(#p375bcca759)" style="fill: none; stroke: #ff0000; stroke-width: 2.083333; stroke-linecap: square"/>
<defs>
<g id="m1e4c84a9b3">
<rect x="-3.1944" y="-3.1944" width="7.3889" height="7.3889" style="fill: #ff0000"/>
</g>
</defs>
<g clip-path="url(#p375bcca759)">
<use href="#m1e4c84a9b3" x="119" y="978"/>
<use href="#m1e4c84a9b3" x="158" y="990"/>
<use href="#m1e4c84a9b3" x="198" y="1020"/>
<use href="#m1e4c84a9b3" x="238" y="1048"/>
<use href="#m1e4c84a9b3" x="277" y="1061"/>
<use href="#m1e4c84a9b3" x="317" y="1080"/>
<use href="#m1e4c84a9b3" x="357" y="1102"/>
<use href="#m1e4c84a9b3" x="396" y="1135"/>
<use href="#m1e4c84a9b3" x="436" y="1153"/>
<use href="#m1e4c84a9b3" x="476" y="1170"/>
<use href="#m1e4c84a9b3" x="516" y="1201"/>
<use href="#m1e4c84a9b3" x="555" y="1236"/>
<use href="#m1e4c84a9b3" x="595" y="1236"/>
<use href="#m1e4c84a9b3" x="635" y="1266"/>
<use href="#m1e4c84a9b3" x="674" y="1297"/>
<use href="#m1e4c84a9b3" x="714" y="1305"/>
<use href="#m1e4c84a9b3" x="754" y="1305"/>
<use href="#m1e4c84a9b3" x="794" y="1305"/>
<use href="#m1e4c84a9b3" x="833" y="1305"/>
</g>
</g>
<g id="patch_15">
<g style="fill: #000000">
<rect x="82.9444" y="960.9444" width="1.1111" height="362.1111"/>
</g>
</g>
<g id="patch_16">
<g style="fill: #000000">
<rect x="868.9444" y="960.9444" width="1.1111" height="362.1111"/>
</g>
</g>
<g id="patch_17">
<g style="fill: #000000">
<rect x="82.9444" y="1321.9444" width="787.1111" height="1.1111"/>
</g>
</g>
<g id="patch_18">
<g style="fill: #000000">
<rect x="82.9444" y="960.9444" width="787.1111" height="1.1111"/>
</g>
</g>
<g id="text_56">
<!-- Complétude : Cauchy dans $\mathbb{R}$ vs dans $\mathbb{Q}$ -->
<g style="font-family: 'DejaVu Sans', sans-serif">
<text style="white-space: pre"><tspan x="339" y="953" style="font-size: 13.888889px">C</tspan><tspan x="348" y="953" style="font-size: 13.888889px">o</tspan><tspan x="357" y="953" style="font-size: 13.888889px">m</tspan><tspan x="370" y="953" style="font-size: 13.888889px">p</tspan><tspan x="379" y="953" style="font-size: 13.888889px">l</tspan><tspan x="383" y="953" style="font-size: 13.888889px">é</tspan><tspan x="391" y="953" style="font-size: 13.888889px">t</tspan><tspan x="397" y="953" style="font-size: 13.888889px">u</tspan><tspan x="406" y="953" style="font-size: 13.888889px">d</tspan><tspan x="414" y="953" style="font-size: 13.888889px">e</tspan><tspan x="423" y="953" style="font-size: 13.888889px"> </tspan><tspan x="427" y="953" style="font-size: 13.888889px">:</tspan><tspan x="432" y="953" style="font-size: 13.888889px"> </tspan><tspan x="436" y="953" style="font-size: 13.888889px">C</tspan><tspan x="446" y="953" style="font-size: 13.888889px">a</tspan><tspan x="455" y="953" style="font-size: 13.888889px">u</tspan><tspan x="463" y="953" style="font-size: 13.888889px">c</tspan><tspan x="471" y="953" style="font-size: 13.888889px">h</tspan><tspan x="480" y="953" style="font-size: 13.888889px">y</tspan><tspan x="488" y="953" style="font-size: 13.888889px"> </tspan><tspan x="492" y="953" style="font-size: 13.888889px">d</tspan><tspan x="501" y="953" style="font-size: 13.888889px">a</tspan><tspan x="510" y="953" style="font-size: 13.888889px">n</tspan><tspan x="519" y="953" style="font-size: 13.888889px">s</tspan><tspan x="526" y="953" style="font-size: 13.888889px"> </tspan></text>
<text style="font-size: 12.3456px; font-family: 'DejaVu Sans', sans-serif; fill-opacity: 0.8" transform="matrix(1.0374 0 -0.27 1 528.984 953)">ℝ</text>
<text style="white-space: pre"><tspan x="540" y="953" style="font-size: 13.888889px"> </tspan><tspan x="544" y="953" style="font-size: 13.888889px">v</tspan><tspan x="552" y="953" style="font-size: 13.888889px">s</tspan><tspan x="560" y="953" style="font-size: 13.888889px"> </tspan><tspan x="564" y="953" style="font-size: 13.888889px">d</tspan><tspan x="573" y="953" style="font-size: 13.888889px">a</tspan><tspan x="581" y="953" style="font-size: 13.888889px">n</tspan><tspan x="590" y="953" style="font-size: 13.888889px">s</tspan><tspan x="597" y="953" style="font-size: 13.888889px"> </tspan></text>
<text style="font-size: 12.2511px; font-family: 'DejaVu Sans', sans-serif; fill-opacity: 0.8" transform="matrix(1.1203 0 -0.15 1 601.117 952.421)">ℚ</text>
</g>
</g>
<g id="legend_3">
<g id="patch_19">
<path d="M 677.5 1018.5 L 861.5 1018.5 Q 863.5 1018.5 863.5 1016.5 L 863.5 969.5 Q 863.5 967.5 861.5 967.5 L 677.5 967.5 Q 675.5 967.5 675.5 969.5 L 675.5 1016.5 Q 675.5 1018.5 677.5 1018.5 z
" style="fill: #ffffff; opacity: 0.8; stroke: #cccccc; stroke-linejoin: miter; stroke-width: 1.388889"/>
</g>
<g id="line2d_94">
<g style="fill: #0000ff">
<rect x="677.9583" y="980.9583" width="13.0833" height="2.0833"/>
<rect x="688.9583" y="980.9583" width="13.0833" height="2.0833"/>
</g>
<g>
<use href="#md086874d5b" x="690" y="982" style="fill: #0000ff; stroke: #0000ff; stroke-width: 1.388889"/>
</g>
</g>
<g id="text_57">
<!-- $|x_n - \sqrt{2}|$ dans $\mathbb{R}$ (complet) -->
<g style="font-family: 'DejaVu Sans', sans-serif">
<text style="white-space: pre"><tspan x="711" y="985" style="font-size: 11.111111px">|</tspan><tspan x="714" y="985" style="font-style: oblique; font-size: 11.111111px">x</tspan><tspan x="721" y="987" style="font-style: oblique; font-size: 7.777778px">n</tspan><tspan x="728" y="985" style="font-size: 11.111111px">−</tspan></text>
<text style="font-size: 13.8849px; font-family: 'Liberation Sans', sans-serif; fill-opacity: 0.5" transform="matrix(0.7747 0 -0 1 740.373 984.671)">√</text>
<text style="white-space: pre"><tspan x="747" y="985" style="font-size: 11.111111px">2</tspan><tspan x="756" y="985" style="font-size: 11.111111px">|</tspan><tspan x="759" y="985" style="font-size: 11.111111px"> </tspan><tspan x="763" y="985" style="font-size: 11.111111px">d</tspan><tspan x="770" y="985" style="font-size: 11.111111px">a</tspan><tspan x="777" y="985" style="font-size: 11.111111px">n</tspan><tspan x="784" y="985" style="font-size: 11.111111px">s</tspan><tspan x="790" y="985" style="font-size: 11.111111px"> </tspan></text>
<text style="font-size: 9.6021px; font-family: 'DejaVu Sans', sans-serif; fill-opacity: 0.8" transform="matrix(1.0773 0 -0.27 1 792.177 985)">ℝ</text>
<text style="white-space: pre"><tspan x="801" y="985" style="font-size: 11.111111px"> </tspan><tspan x="804" y="985" style="font-size: 11.111111px">(</tspan><tspan x="809" y="985" style="font-size: 11.111111px">c</tspan><tspan x="815" y="985" style="font-size: 11.111111px">o</tspan><tspan x="822" y="985" style="font-size: 11.111111px">m</tspan><tspan x="832" y="985" style="font-size: 11.111111px">p</tspan><tspan x="840" y="985" style="font-size: 11.111111px">l</tspan><tspan x="843" y="985" style="font-size: 11.111111px">e</tspan><tspan x="849" y="985" style="font-size: 11.111111px">t</tspan><tspan x="854" y="985" style="font-size: 11.111111px">)</tspan></text>
<rect x="746" y="973" width="12" height="1"/>
</g>
</g>
<g id="line2d_95">
<g style="fill: #ff0000">
<rect x="677.9583" y="1004.9583" width="13.0833" height="2.0833"/>
<rect x="688.9583" y="1004.9583" width="13.0833" height="2.0833"/>
</g>
<g>
<use href="#m1e4c84a9b3" x="690" y="1006"/>
</g>
</g>
<g id="text_58">
<!-- $x_n \to \sqrt{2} \notin \mathbb{Q}$ -->
<g style="font-family: 'DejaVu Sans', sans-serif">
<text style="white-space: pre"><tspan x="711" y="1009" style="font-style: oblique; font-size: 11.111111px">x</tspan><tspan x="717" y="1011" style="font-style: oblique; font-size: 7.777778px">n</tspan><tspan x="725" y="1009" style="font-size: 11.111111px">→</tspan></text>
<text style="font-size: 13.8849px; font-family: 'Liberation Sans', sans-serif; fill-opacity: 0.5" transform="matrix(0.7747 0 -0 1 736.373 1008.671)">√</text>
<text style="white-space: pre"><tspan x="744" y="1009" style="font-size: 11.111111px">2</tspan><tspan x="754" y="1009" style="font-size: 11.111111px">∉</tspan></text>
<text style="font-size: 9.7758px; font-family: 'DejaVu Sans', sans-serif; fill-opacity: 0.8" transform="matrix(1.1242 0 -0.15 1 765.282 1008.63)">ℚ</text>
<rect x="742" y="997" width="12" height="1"/>
</g>
</g>
</g>
</g>
<g id="text_59">
<text x="212 222 234.25 247.125 259.375 265.5 277.75 290.5 296.625 308.875 315.125 322.25 328.5 339.125 351.375 370.125 383 395 405.625 411.75 420.375 432.625 439.5 445.75 456.375 468.625 481.375 494.125 506.375 518 524.125 532.75 545 551.875 558.125 568.75 581 599.75 612.625 618.75 631 639.625 652.375 665.125" y="25" style="font-weight: 700; font-size: 18.055556px; font-family: 'DejaVu Sans', sans-serif">Topologie : compacité, connexité, complétude</text>
</g>
</g>
<defs>
<clipPath id="p5ff077d3a9">
<rect x="83" y="53" width="786" height="360"/>
</clipPath>
<clipPath id="pfa84c1c053">
<rect x="83" y="507" width="786" height="360"/>
</clipPath>
<clipPath id="p375bcca759">
<rect x="83" y="961" width="786" height="361"/>
</clipPath>
</defs>
</svg>

</body></html>
